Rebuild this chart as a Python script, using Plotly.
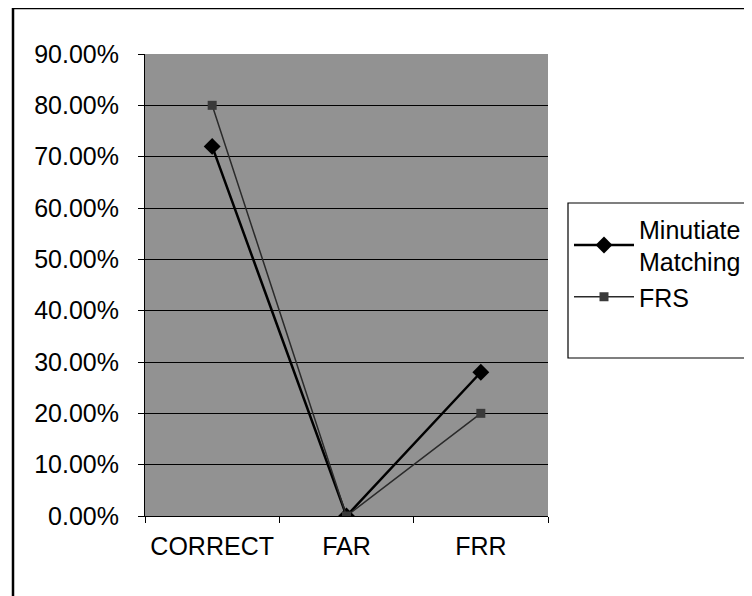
import plotly.graph_objects as go

categories = ["CORRECT", "FAR", "FRR"]
minutiate = [0.72, 0.0, 0.28]
frs = [0.80, 0.0, 0.20]
y_ticks = [0.0, 0.1, 0.2, 0.3, 0.4, 0.5, 0.6, 0.7, 0.8, 0.9]

FONT = "Liberation Sans, Arial, sans-serif"
OFF = 8  # page body margin

fig = go.Figure()
fig.add_trace(go.Scatter(
    x=categories, y=minutiate, name="Minutiate<br>Matching",
    mode="lines+markers",
    line=dict(color="black", width=2.5),
    marker=dict(symbol="diamond", size=13, color="black"),
))
fig.add_trace(go.Scatter(
    x=categories, y=frs, name="FRS",
    mode="lines+markers",
    line=dict(color="#2a2a2a", width=1.5),
    marker=dict(symbol="square", size=9, color="#3a3a3a"),
))

# target screen coords
sl, sr, st, sb = 145, 548, 54, 516
L, T = sl - OFF, st - OFF
R = 752 - (sr - OFF)
B = 596 - (sb - OFF)
pw = sr - sl
ph = sb - st

def px(x):
    return (x - sl) / pw

def py(y):
    return (sb - y) / ph

fig.update_layout(
    width=752, height=596,
    margin=dict(l=L, r=R, t=T, b=B, autoexpand=False),
    paper_bgcolor="white",
    plot_bgcolor="#929292",
    font=dict(family=FONT, size=25, color="black"),
    showlegend=True,
    legend=dict(
        x=px(569), y=py(206),
        xanchor="left", yanchor="top",
        bgcolor="rgba(0,0,0,0)", borderwidth=0,
        font=dict(family=FONT, size=25, color="black"),
        itemwidth=60, tracegroupgap=14,
    ),
    xaxis=dict(
        type="category", range=[-0.5, 2.5],
        tickson="boundaries", ticks="outside", ticklen=6, tickcolor="black",
        showline=True, linecolor="black", linewidth=1,
        showgrid=False, zeroline=False,
        ticklabelstandoff=8,
        tickfont=dict(family=FONT, size=25, color="black"),
    ),
    yaxis=dict(
        range=[0, 0.9], tickvals=y_ticks, tickformat=".2%",
        ticks="outside", ticklen=6, tickcolor="black",
        showline=True, linecolor="black", linewidth=1,
        showgrid=True, gridcolor="black", gridwidth=1,
        zeroline=False,
        ticklabelstandoff=14,
        tickfont=dict(family=FONT, size=25, color="black"),
    ),
    shapes=[
        dict(
            type="rect", xref="paper", yref="paper",
            x0=px(13), x1=px(780), y0=py(620), y1=py(8),
            line=dict(color="black", width=2.5), fillcolor="rgba(0,0,0,0)",
            layer="below",
        ),
        dict(
            type="rect", xref="paper", yref="paper",
            x0=px(568), x1=px(750), y0=py(358), y1=py(203),
            line=dict(color="black", width=1.2), fillcolor="white",
            layer="below",
        ),
    ],
)

fig.write_html("out.html")
